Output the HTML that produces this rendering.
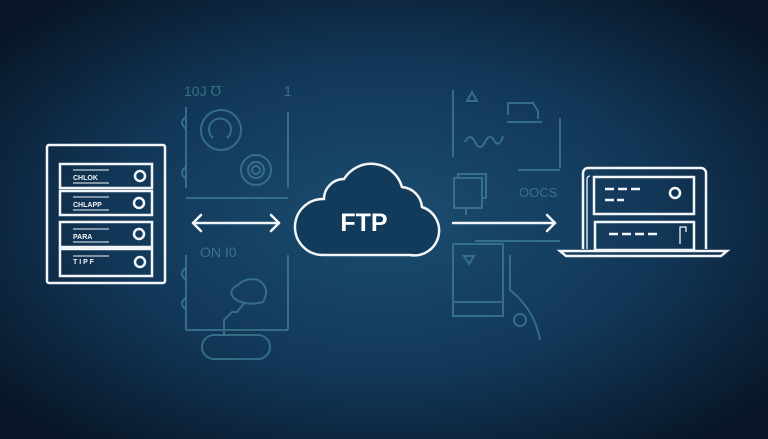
<!DOCTYPE html>
<html><head><meta charset="utf-8"><style>
html,body{margin:0;padding:0;width:768px;height:439px;overflow:hidden;background:#0b1e33}
svg{display:block}
</style></head><body>
<svg width="768" height="439" viewBox="0 0 768 439" xmlns="http://www.w3.org/2000/svg">
<defs>
<radialGradient id="bg" cx="50%" cy="50%" r="65%">
<stop offset="0" stop-color="#1b4d6f"/>
<stop offset="0.55" stop-color="#123758"/>
<stop offset="1" stop-color="#081627"/>
</radialGradient>
</defs>
<rect width="768" height="439" fill="url(#bg)"/>

<!-- faint left panels -->
<g fill="none" stroke="#3f7f95" stroke-width="2" opacity="0.75">
<line x1="186" y1="107" x2="186" y2="188"/>
<line x1="288" y1="112" x2="288" y2="188"/>
<path d="M186 117 q-8 5 0 12 M186 167 q-8 5 0 12"/>
<line x1="186" y1="198" x2="288" y2="198"/>
<circle cx="221" cy="130" r="20"/>
<path d="M213 138 a11 11 0 1 1 14 0"/>
<circle cx="256" cy="170" r="15"/>
<circle cx="256" cy="170" r="8"/>
<circle cx="256" cy="170" r="4"/>
<line x1="186" y1="255" x2="186" y2="330"/>
<line x1="288" y1="255" x2="288" y2="330"/>
<path d="M186 268 q-8 5 0 12 M186 298 q-8 5 0 12"/>
<line x1="186" y1="330" x2="288" y2="330"/>
<path d="M238 285 q-10 5 -5 12 q10 10 30 5 q8 -15 -5 -22 q-12 -3 -20 5z"/>
<path d="M245 302 l-8 10 h-5 l-8 8 v15"/>
<rect x="202" y="335" width="68" height="24" rx="12"/>
</g>
<g fill="#3f7f95" opacity="0.8" font-family="Liberation Sans, sans-serif" font-size="14">
<text x="184" y="96">10J ℧</text>
<text x="284" y="96">1</text>
<text x="200" y="257">ON I0</text>
</g>

<!-- faint right panels -->
<g fill="none" stroke="#3f7f95" stroke-width="2" opacity="0.75">
<line x1="453" y1="90" x2="453" y2="157"/>
<path d="M467 101 l5 -9 l5 9z"/>
<path d="M508 115 v-12 h25 l5 8 v8 M507 122 h35 M560 118 v50 M518 170 h42"/>
<path d="M465 142 q5 -10 10 0 q5 10 10 0 q5 -10 10 0 q5 5 8 -6"/>
<rect x="454" y="178" width="28" height="30"/>
<path d="M458 178 v-4 h28 v24 h-4"/>
<line x1="466" y1="208" x2="466" y2="215"/>
<line x1="475" y1="241" x2="560" y2="241"/>
<rect x="453" y="244" width="50" height="72"/>
<line x1="453" y1="302" x2="503" y2="302"/>
<path d="M464 256 l5 8 l5 -8z"/>
<path d="M510 255 v35 q25 20 30 50"/>
<circle cx="520" cy="320" r="6"/>
</g>
<text x="519" y="197" fill="#3f7f95" opacity="0.8" font-family="Liberation Sans, sans-serif" font-size="13">OOCS</text>

<!-- server -->
<g fill="none" stroke="#f2f5f7" stroke-width="2.5">
<rect x="47" y="145" width="118" height="138" rx="2"/>
<rect x="60" y="164" width="92" height="24"/>
<rect x="60" y="191" width="92" height="24"/>
<rect x="60" y="222" width="92" height="25"/>
<rect x="60" y="249" width="92" height="27"/>
<circle cx="140" cy="176" r="5"/>
<circle cx="139" cy="203" r="5"/>
<circle cx="139" cy="234" r="5"/>
<circle cx="140" cy="262" r="5"/>
</g>
<g stroke="#f2f5f7" stroke-width="1">
<line x1="73" y1="170" x2="109" y2="170"/><line x1="73" y1="183" x2="109" y2="183"/>
<line x1="73" y1="197" x2="109" y2="197"/><line x1="73" y1="210" x2="109" y2="210"/>
<line x1="73" y1="229" x2="109" y2="229"/><line x1="73" y1="242" x2="109" y2="242"/>
<line x1="73" y1="256" x2="109" y2="256"/>
</g>
<g fill="#f2f5f7" font-family="Liberation Sans, sans-serif" font-size="7" font-weight="bold">
<text x="73" y="180">CHLOK</text>
<text x="73" y="207">CHLAPP</text>
<text x="73" y="239">PARA</text>
<text x="73" y="264">T I P  F</text>
</g>

<!-- arrows -->
<g fill="none" stroke="#f2f5f7" stroke-width="2.5" stroke-linecap="round" stroke-linejoin="round">
<line x1="193" y1="223" x2="279" y2="223"/>
<path d="M201 215 l-8 8 l8 8 M271 215 l8 8 l-8 8"/>
<line x1="453" y1="223" x2="555" y2="223"/>
<path d="M547 215 l8 8 l-8 8"/>
</g>

<!-- cloud -->
<path d="M322 255 a28 28 0 0 1 2 -56 a20 20 0 0 1 20 -20 a32 32 0 0 1 58 8 a22 22 0 0 1 20 20 a24.8 24.8 0 0 1 -12 48 z" fill="#123a5a" stroke="#f2f5f7" stroke-width="2.5"/>
<text x="364" y="231" text-anchor="middle" fill="#ffffff" font-family="Liberation Sans, sans-serif" font-weight="bold" font-size="25">FTP</text>

<!-- laptop -->
<g fill="none" stroke="#f2f5f7" stroke-width="2.5">
<path d="M583 249 v-76 a5 5 0 0 1 5 -5 h113 a5 5 0 0 1 5 5 v76"/>
<path d="M560 251 h167 l-6 5 h-155z"/>
<rect x="594" y="177" width="100" height="37"/>
<rect x="595" y="222" width="99" height="28"/>
<circle cx="675" cy="193" r="5"/>
</g>
<g stroke="#f2f5f7" stroke-width="1.3" fill="none">
<path d="M587 249 v-70 a3 3 0 0 1 3 -3"/>
<path d="M680 244 v-17 h6 v5"/>
</g>
<g stroke="#f2f5f7" stroke-width="2.5">
<line x1="605" y1="189" x2="614" y2="189"/><line x1="618" y1="189" x2="627" y2="189"/><line x1="631" y1="189" x2="640" y2="189"/>
<line x1="605" y1="200" x2="614" y2="200"/><line x1="617" y1="200" x2="624" y2="200"/>
<line x1="609" y1="234" x2="618" y2="234"/><line x1="622" y1="234" x2="631" y2="234"/><line x1="635" y1="234" x2="644" y2="234"/><line x1="648" y1="234" x2="657" y2="234"/>
</g>
</svg>
</body></html>
